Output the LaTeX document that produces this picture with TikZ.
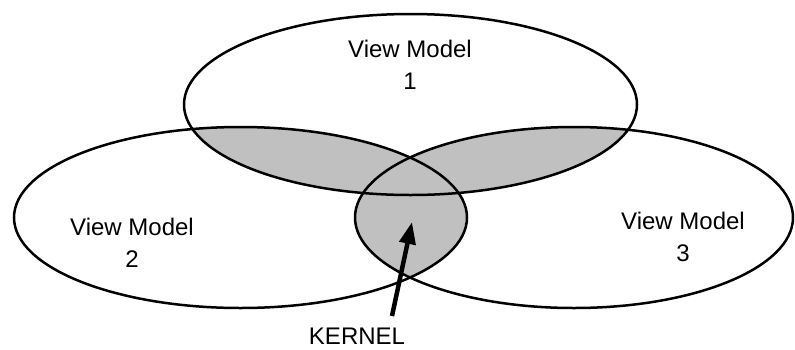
\documentclass[tikz,border=0pt]{standalone}
\usepackage{fontspec}
\setmainfont{Liberation Sans}
\usetikzlibrary{arrows.meta}
\begin{document}
\begin{tikzpicture}[x=1pt,y=-1pt,
  outline/.style={draw=black,line width=2.5pt},
  overlap/.style={fill=lapgray},
  label/.style={font=\fontsize{24}{32}\selectfont,align=center,inner sep=0pt},
  pointer/.style={line width=4.5pt,-{Triangle[length=22pt,width=16pt]}}]
\definecolor{lapgray}{RGB}{192,192,192}
\useasboundingbox (0,0) rectangle (795,349);
\coordinate (c1) at (410.5,104.5);
\coordinate (c2) at (240.5,217.5);
\coordinate (c3) at (574,217.5);
% shaded pairwise overlaps
\begin{scope}
  \clip (c1) ellipse [x radius=226.5, y radius=90.5];
  \fill[overlap] (c2) ellipse [x radius=226.5, y radius=90.5];
  \fill[overlap] (c3) ellipse [x radius=219, y radius=90.5];
\end{scope}
\begin{scope}
  \clip (c2) ellipse [x radius=226.5, y radius=90.5];
  \fill[overlap] (c3) ellipse [x radius=219, y radius=90.5];
\end{scope}
% outlines
\draw[outline] (c1) ellipse [x radius=226.5, y radius=90.5];
\draw[outline] (c2) ellipse [x radius=226.5, y radius=90.5];
\draw[outline] (c3) ellipse [x radius=219, y radius=90.5];
% labels
\node[label] (vm1) at (410,65) {View Model\\1};
\node[label] (vm2) at (132,243) {View Model\\2};
\node[label] (vm3) at (683,237) {View Model\\3};
\node[label,anchor=base] (kernel) at (357,344) {KERNEL};
% arrow
\coordinate (tail) at (392,316);
\coordinate (tip) at (412,222);
\draw[pointer] (tail) -- (tip);
\end{tikzpicture}
\end{document}
